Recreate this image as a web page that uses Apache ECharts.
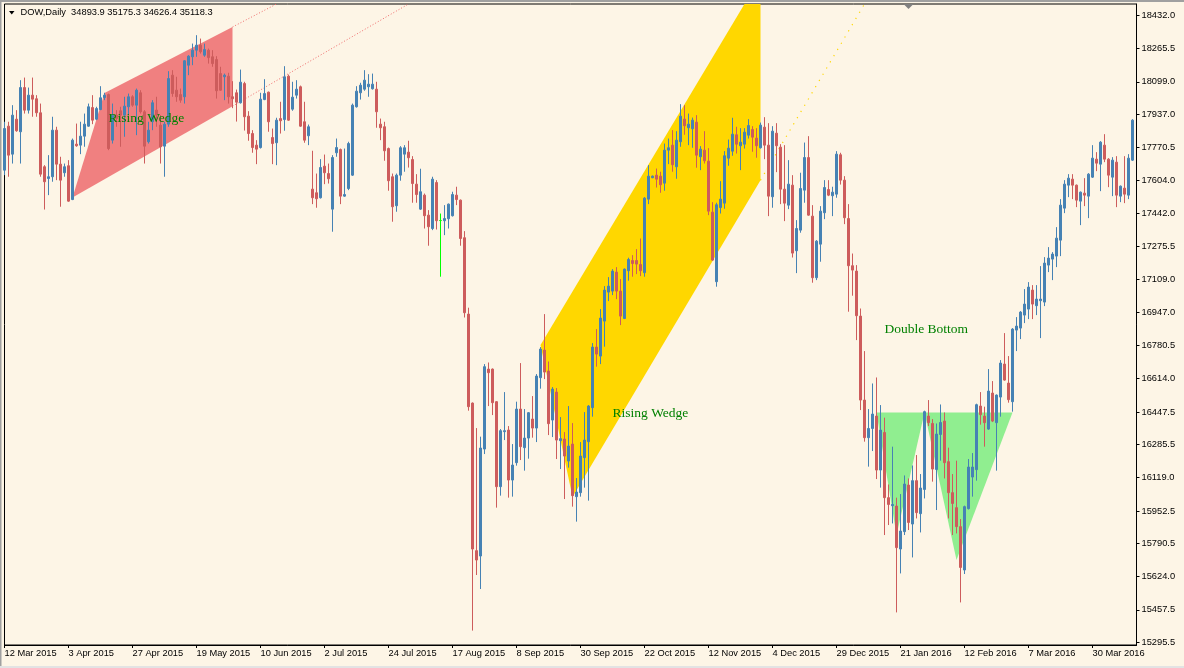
<!DOCTYPE html>
<html>
<head>
<meta charset="utf-8">
<title>DOW,Daily</title>
<script src="https://cdn.jsdelivr.net/npm/echarts@6.0.0/dist/echarts.min.js"></script>
<style>
  html, body { margin: 0; padding: 0; background: #FDF5E6; }
  #chart { width: 1184px; height: 668px; }
</style>
</head>
<body>
<div id="chart"></div>
<script>
// daily bars, 12 Mar 2015 .. 13 Apr 2016
const opens = [
  17657,17877,17737,17912,17849,18070,17957,18032,18014,17944,
  17674,17615,17624,17857,17687,17644,17679,17510,17787,17782,
  17827,17877,17970,17912,17960,18020,18035,17807,17932,17954,
  17932,17974,18024,17982,18044,17949,17799,17899,17957,17882,
  17777,17887,18132,18057,18035,18024,18182,18224,18257,18282,
  18232,18257,18224,18210,18140,18124,18127,18024,18044,17994,
  18090,17927,17840,17782,17770,18010,18047,17820,17794,17915,
  17910,18127,17962,18032,18074,17899,17829,17562,17544,17519,
  17677,17640,17462,17744,17760,17527,17565,17632,17974,18044,
  18062,18074,18064,18062,17887,17874,17765,17624,17479,17632,
  17737,17747,17710,17587,17462,17532,17432,17365,17595,17405,
  17404,17414,17429,17532,17507,17319,16937,16492,15754,15727,
  16262,16662,16662,16499,16074,16349,16357,16107,16194,16462,
  16269,16317,16412,16367,16619,16757,16652,16407,16547,16304,
  16312,16202,16287,16024,16044,16219,16299,16469,16772,16727,
  16902,17047,17052,17147,17052,16915,17154,17205,17205,17185,
  17144,17512,17619,17632,17627,17592,17757,17782,17674,17799,
  17912,17869,17864,17897,17724,17757,17702,17447,17099,17470,
  17492,17717,17752,17834,17779,17787,17832,17860,17817,17769,
  17872,17782,17524,17842,17772,17562,17482,17582,17254,17357,
  17557,17720,17427,17119,17287,17444,17560,17529,17537,17734,
  17607,17415,17179,17152,16927,16507,16319,16365,16427,16157,
  16345,16019,15979,15977,15762,15849,16082,15887,16104,15939,
  16060,16427,16390,16160,16335,16402,16199,16044,15969,15874,
  15657,15964,16122,16159,16477,16427,16362,16542,16394,16522,
  16687,16592,16499,16857,16867,16932,16962,17057,16979,17004,
  16997,17182,17212,17227,17307,17467,17582,17612,17582,17502,
  17542,17527,17622,17712,17687,17782,17712,17622,17697,17527,
  17567,17532,17707
];
const highs = [
  17899,17899,17982,17957,18107,18120,18070,18120,18032,17990,
  17682,17732,17924,17874,17724,17690,17707,17815,17890,17899,
  17940,17990,18032,17974,18077,18044,18040,17990,17957,17974,
  18024,18040,18032,18065,18057,17957,17899,18007,18024,17932,
  17899,18152,18157,18124,18065,18207,18232,18290,18332,18315,
  18290,18265,18257,18227,18174,18140,18144,18102,18060,18160,
  18099,17952,17857,17807,18044,18112,18050,17865,17919,17999,
  18177,18135,18099,18107,18080,17999,17885,17754,17640,17712,
  17735,17690,17732,17815,17765,17765,17799,17990,18077,18094,
  18157,18137,18140,18099,17915,17899,17770,17640,17640,17777,
  17782,17804,17727,17637,17664,17540,17457,17624,17607,17440,
  17482,17490,17549,17574,17510,17352,16969,16495,16367,16324,
  16687,16695,16665,16502,16362,16547,16377,16287,16499,16692,
  16462,16447,16527,16637,16772,16937,16700,16572,16567,16422,
  16347,16477,16392,16117,16297,16447,16482,16792,16862,16962,
  17077,17122,17162,17172,17112,17165,17219,17232,17262,17315,
  17522,17682,17630,17665,17649,17790,17815,17857,17852,17987,
  17982,17940,17920,17932,17777,17852,17767,17497,17494,17602,
  17752,17810,17919,17874,17867,17867,17912,17877,17867,17895,
  17922,17892,17877,17892,17787,17782,17707,17632,17407,17644,
  17795,17827,17482,17307,17477,17607,17607,17574,17752,17744,
  17627,17487,17240,17182,16965,16752,16462,16590,16620,16482,
  16419,16085,16274,16019,16037,16130,16115,16180,16232,16137,
  16454,16507,16412,16390,16485,16445,16269,16137,16204,15912,
  15979,16212,16242,16489,16547,16474,16662,16602,16535,16707,
  16842,16727,16867,16922,16952,17062,17097,17082,17082,17177,
  17222,17272,17247,17372,17512,17607,17637,17637,17585,17550,
  17617,17642,17782,17747,17802,17837,17717,17722,17727,17580,
  17727,17737,17912
];
const lows = [
  17632,17624,17690,17849,17690,17940,17940,17924,17924,17624,
  17460,17532,17599,17607,17474,17624,17499,17507,17774,17737,
  17774,17874,17887,17907,17957,18007,17757,17790,17874,17774,
  17824,17932,17974,17832,17940,17690,17790,17857,17874,17690,
  17624,17874,18024,17999,17994,17990,18132,18182,18224,18240,
  18224,18190,18174,18015,18054,18007,17990,17967,17900,17990,
  17855,17804,17744,17687,17765,18007,17849,17687,17682,17840,
  17854,17904,17954,18015,17874,17794,17782,17487,17469,17515,
  17587,17590,17349,17724,17487,17524,17557,17628,17970,18010,
  18054,18024,18060,17869,17807,17704,17554,17399,17449,17604,
  17649,17670,17494,17494,17458,17365,17279,17357,17360,17124,
  17332,17365,17425,17482,17279,16920,16454,15354,15632,15562,
  16237,16477,16432,15969,16029,16307,16019,16024,16179,16207,
  16154,16214,16319,16297,16564,16612,16332,16322,16212,16162,
  16012,16169,15974,15899,16024,16069,16004,16424,16674,16687,
  16774,17002,17032,17012,16882,16912,17104,17124,17137,17127,
  17124,17487,17617,17570,17544,17554,17687,17649,17614,17774,
  17834,17782,17769,17669,17657,17690,17432,17204,17074,17440,
  17464,17679,17729,17740,17657,17765,17815,17749,17719,17765,
  17712,17427,17469,17647,17487,17402,17462,17220,17142,17344,
  17494,17429,17094,17107,17199,17412,17527,17427,17519,17585,
  17387,16949,17029,16807,16457,16299,16174,16252,16112,16069,
  15832,15882,15890,15445,15640,15832,15857,15720,15915,15845,
  16015,16377,16099,15957,16204,16115,15915,15832,15840,15495,
  15637,15960,16024,16104,16384,16274,16358,16397,16154,16424,
  16604,16494,16449,16752,16812,16892,16912,16912,16932,16817,
  16977,17147,17107,17172,17227,17442,17522,17512,17472,17382,
  17477,17417,17618,17652,17552,17697,17572,17527,17472,17497,
  17492,17512,17703
];
const closes = [
  17865,17732,17932,17854,18070,17957,18032,18012,17944,17637,
  17599,17624,17857,17687,17607,17674,17502,17807,17779,17827,
  17887,17974,17907,17965,18019,18032,17765,17932,17915,17932,
  17977,18024,17982,18057,17949,17777,17857,17994,17932,17774,
  17887,18115,18040,18024,18007,18204,18227,18257,18282,18249,
  18260,18220,18190,18054,18057,18132,18024,18014,17997,18097,
  17924,17840,17770,17762,18012,18040,17899,17790,17907,17904,
  18124,17907,18022,18062,17877,17807,17874,17519,17514,17670,
  17644,17614,17720,17770,17527,17535,17790,17982,18052,18082,
  18107,18087,18087,17949,17869,17754,17604,17474,17632,17769,
  17769,17719,17590,17535,17549,17429,17374,17612,17404,17405,
  17415,17487,17535,17510,17315,16944,16474,15762,15707,16267,
  16674,16644,16494,16074,16354,16354,16107,16182,16462,16274,
  16317,16444,16367,16627,16762,16647,16389,16562,16307,16314,
  16227,16277,16029,16047,16227,16307,16477,16772,16737,16917,
  17057,17077,17152,17052,16927,17162,17210,17190,17187,17154,
  17517,17627,17627,17612,17584,17757,17769,17684,17807,17927,
  17879,17887,17907,17732,17762,17704,17452,17207,17484,17512,
  17729,17767,17837,17787,17797,17847,17880,17822,17779,17882,
  17782,17527,17852,17779,17562,17492,17587,17242,17365,17565,
  17720,17432,17119,17302,17452,17570,17532,17547,17737,17607,
  17419,17179,17157,16929,16507,16319,16365,16437,16157,16357,
  16019,15985,15985,15769,15852,16087,15895,16104,15944,16067,
  16449,16394,16162,16337,16395,16194,16044,15990,15874,15670,
  15974,16172,16172,16484,16434,16394,16552,16402,16532,16692,
  16607,16509,16862,16877,16947,16987,17072,16987,17012,17012,
  17192,17217,17237,17317,17482,17587,17617,17582,17507,17547,
  17532,17637,17717,17692,17797,17712,17632,17707,17532,17577,
  17537,17717,17907
];

// price scale labels on the right
const priceTicks = [18432.0, 18265.5, 18099.0, 17937.0, 17770.5, 17604.0, 17442.0,
  17275.5, 17109.0, 16947.0, 16780.5, 16614.0, 16447.5, 16285.5, 16119.0,
  15952.5, 15790.5, 15624.0, 15457.5, 15295.5];

// drawn objects, as [bar index, price]
const pinkWedge = [[17.2, 17520], [25.35, 18043], [56.75, 18373], [56.75, 17977]];
const pinkRays = [
  [[56.75, 18373], [67.7, 18488]],
  [[56.75, 17977], [101.0, 18488]]
];
const goldChannel = [[134.05, 16782], [185.4, 18488], [188.9, 18488], [188.9, 17607], [141.9, 16022]];
const goldRay = [[188.9, 17607], [215.0, 18488]];
const greenLeft = [[218.0, 16445], [230.35, 16445], [222.8, 15832]];
const greenRight = [[230.35, 16445], [251.9, 16445], [238.25, 15707]];
const patternNames = ['Rising Wedge', 'Rising Wedge', 'Double Bottom'];
const patternAnchors = [[25.7, 17917], [151.9, 16442], [219.9, 16862]];

const firstDay = '2015-03-12';
const skippedDays = ['2015-12-25', '2016-01-01', '2016-03-25'];
const extraDays = ['2015-11-01'];
const MONTHS = ['Jan', 'Feb', 'Mar', 'Apr', 'May', 'Jun', 'Jul', 'Aug', 'Sep', 'Oct', 'Nov', 'Dec'];

const BULL = '#4682B4';
const BEAR = '#CD5C5C';
const DOJI = '#00FF00';
const FONT = '"Liberation Sans", Arial, sans-serif';

function tradingDays(start, count) {
  const out = [];
  const d = new Date(start + 'T00:00:00Z');
  while (out.length < count) {
    const iso = d.toISOString().slice(0, 10);
    const wd = d.getUTCDay();
    if ((wd !== 0 && wd !== 6 && !skippedDays.includes(iso)) || extraDays.includes(iso)) {
      out.push(iso);
    }
    d.setUTCDate(d.getUTCDate() + 1);
  }
  return out;
}

function dayLabel(iso) {
  const [y, m, d] = iso.split('-');
  return (+d) + ' ' + MONTHS[+m - 1] + ' ' + y;
}

// one spare slot on the right, like the terminal keeps
const dates = tradingDays(firstDay, opens.length + 1);

const candles = opens.map((o, i) => {
  const item = { value: [o, closes[i], lows[i], highs[i]] };
  if (o === closes[i]) {
    item.itemStyle = { color: DOJI, color0: DOJI, borderColor: DOJI, borderColor0: DOJI, borderColorDoji: DOJI };
  }
  return item;
});

function pts(api, list) {
  return list.map(p => api.coord(p));
}

const chart = echarts.init(document.getElementById('chart'));

chart.setOption({
  animation: false,
  backgroundColor: '#FDF5E6',
  grid: {
    left: 4.5, top: 4, right: 47.5, bottom: 23,
    show: true, borderColor: '#000', borderWidth: 1, backgroundColor: 'transparent'
  },
  xAxis: {
    type: 'category',
    data: dates,
    boundaryGap: false,
    axisLine: { show: true, lineStyle: { color: '#000', width: 1 } },
    axisTick: { show: true, interval: 15, length: 3, lineStyle: { color: '#000' } },
    axisLabel: {
      interval: 15, formatter: dayLabel, align: 'left', margin: 4,
      color: '#000', fontSize: 9.3, fontFamily: FONT
    },
    splitLine: { show: false }
  },
  yAxis: {
    type: 'value',
    position: 'right',
    min: 15282,
    max: 18488,
    splitLine: { show: false },
    axisLine: { show: true, lineStyle: { color: '#000', width: 1 } },
    axisTick: { show: true, length: 3, customValues: priceTicks, lineStyle: { color: '#000' } },
    axisLabel: {
      customValues: priceTicks,
      formatter: v => v.toFixed(1),
      margin: 5, color: '#000', fontSize: 9.3, fontFamily: FONT
    }
  },
  graphic: [
    { type: 'rect', left: 0, top: 0, z: 100, shape: { width: 1184, height: 2 }, style: { fill: '#A0A0A0' } },
    { type: 'rect', left: 0, top: 0, z: 100, shape: { width: 1.5, height: 668 }, style: { fill: '#A0A0A0' } },
    { type: 'rect', left: 0, top: 666, z: 100, shape: { width: 1184, height: 2 }, style: { fill: '#E3E3E3' } },
    {
      type: 'polygon', z: 100,
      shape: { points: [[9, 11], [14.5, 11], [11.75, 14.5]] },
      style: { fill: '#000' }
    },
    {
      type: 'text', z: 100, x: 20.5, y: 12.7,
      style: {
        text: 'DOW,Daily  34893.9 35175.3 34626.4 35118.3',
        fill: '#000', font: '9.3px ' + FONT, verticalAlign: 'middle'
      }
    },
    {
      type: 'polygon', z: 100,
      shape: { points: [[903.5, 4], [913.5, 4], [908.5, 9]] },
      style: { fill: '#808080' }
    }
  ],
  series: [
    {
      type: 'custom',
      name: 'objects',
      z: 1,
      silent: true,
      clip: true,
      data: [[0, 16000]],
      renderItem: (params, api) => ({
        type: 'group',
        children: [
          { type: 'polygon', shape: { points: pts(api, pinkWedge) }, style: { fill: '#F08080' } },
          { type: 'polygon', shape: { points: pts(api, goldChannel) }, style: { fill: '#FFD700' } },
          { type: 'polygon', shape: { points: pts(api, greenLeft) }, style: { fill: '#90EE90' } },
          { type: 'polygon', shape: { points: pts(api, greenRight) }, style: { fill: '#90EE90' } },
          ...pinkRays.map(r => ({
            type: 'polyline', shape: { points: pts(api, r) },
            style: { stroke: '#F06C6C', lineWidth: 1, lineDash: [1, 2], fill: null }
          })),
          {
            type: 'polyline', shape: { points: pts(api, goldRay) },
            style: { stroke: '#FFD700', lineWidth: 1.2, lineDash: [1.2, 6], fill: null }
          }
        ]
      })
    },
    {
      type: 'candlestick',
      name: 'DOW,Daily',
      z: 2,
      clip: false,
      barWidth: 2,
      data: candles,
      itemStyle: {
        color: BULL, color0: BEAR,
        borderColor: BULL, borderColor0: BEAR,
        borderWidth: 1
      }
    },
    {
      type: 'custom',
      name: 'labels',
      z: 3,
      silent: true,
      data: [[0, 16000]],
      renderItem: (params, api) => ({
        type: 'group',
        children: patternNames.map((t, i) => {
          const p = api.coord(patternAnchors[i]);
          return {
            type: 'text', x: p[0], y: p[1],
            style: {
              text: t, fill: '#008000',
              font: '13.5px "Liberation Serif", "Times New Roman", serif',
              align: 'left', verticalAlign: 'middle'
            }
          };
        })
      })
    }
  ]
});
</script>
</body>
</html>
